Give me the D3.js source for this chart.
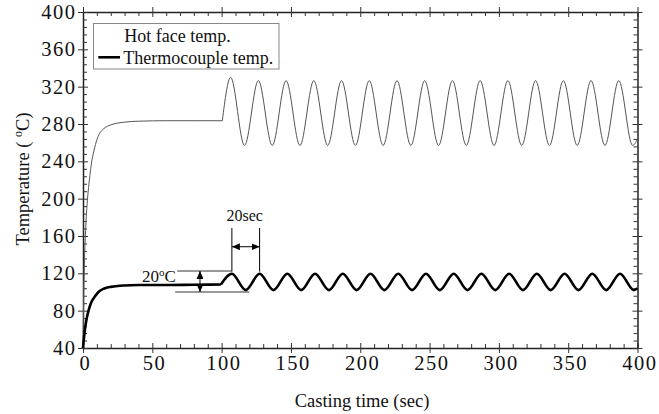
<!DOCTYPE html>
<html>
<head>
<meta charset="utf-8">
<script src="https://cdn.jsdelivr.net/npm/d3@7"></script>
<style>
  html, body { margin: 0; padding: 0; background: #fff; }
  svg { display: block; }
  text { font-family: "Liberation Serif", "Times New Roman", serif; fill: #111; }
</style>
</head>
<body>
<svg id="chart" width="659" height="414"></svg>
<script>
// Hot face temperature: start-up rise and plateau (sec, °C)
const hotRiseTime = [0, 0.5, 1, 2, 3, 4, 5, 6, 8, 10, 12, 15, 20, 25, 30, 40, 60, 80, 100.5];
const hotRiseTemp = [40, 95, 130, 170, 195, 212, 225, 237, 252, 263, 270, 275, 279, 281, 282, 283, 283.5, 283.5, 283.5];
// Hot face temperature once mould oscillation starts: turning points
const hotCycleTime = [100.5, 106.5, 116.5, 126.5, 136.5, 146.5, 156.5, 166.5, 176.5, 186.5, 196.5, 206.5, 216.5, 226.5, 236.5,
  246.5, 256.5, 266.5, 276.5, 286.5, 296.5, 306.5, 316.5, 326.5, 336.5, 346.5, 356.5, 366.5, 376.5, 386.5, 396.5, 400];
const hotCycleTemp = [283.5, 330, 257, 326.5, 257, 326.5, 257, 326.5, 257, 326.5, 257, 326.5, 257, 326.5, 257,
  326.5, 257, 326.5, 257, 326.5, 257, 326.5, 257, 326.5, 257, 326.5, 257, 326.5, 257, 326.5, 257, 264];

// Thermocouple temperature: start-up rise and plateau
const tcRiseTime = [0, 1, 2, 3, 4, 5, 6, 8, 10, 12, 15, 20, 25, 30, 40, 60, 80, 99.5];
const tcRiseTemp = [40, 55, 66, 74, 80, 85, 89, 94, 98, 101, 103.5, 105.5, 106.5, 107, 107.5, 107.5, 107.8, 108];
// Thermocouple temperature during oscillation: turning points
const tcCycleTime = [99.5, 107.4, 117.4, 127.4, 137.4, 147.4, 157.4, 167.4, 177.4, 187.4, 197.4, 207.4, 217.4, 227.4, 237.4,
  247.4, 257.4, 267.4, 277.4, 287.4, 297.4, 307.4, 317.4, 327.4, 337.4, 347.4, 357.4, 367.4, 377.4, 387.4, 397.4, 400];
const tcCycleTemp = [108, 119.5, 102, 119.5, 102, 119.5, 102, 119.5, 102, 119.5, 102, 119.5, 102, 119.5, 102,
  119.5, 102, 119.5, 102, 119.5, 102, 119.5, 102, 119.5, 102, 119.5, 102, 119.5, 102, 119.5, 102, 104];

// Axis ticks
const xTicks = [0, 50, 100, 150, 200, 250, 300, 350, 400];
const yTicks = [40, 80, 120, 160, 200, 240, 280, 320, 360, 400];
const xMinorStep = 10;
const yMinorStep = 8;

// Annotation values
const periodMarks = [107.4, 127.4];        // two successive thermocouple peaks (sec)
const periodLabel = "20sec";
const rangeTop = 122.5, rangeBottom = 100;  // thermocouple swing (°C)
const rangeLabel = "20";

const svg = d3.select("#chart");
const x = d3.scaleLinear().domain([0, 400]).range([83, 637.5]);
const y = d3.scaleLinear().domain([40, 400]).range([348, 12]);

const xMinor = d3.range(0, 400 + 1e-9, xMinorStep).filter(v => !xTicks.includes(v));
const yMinor = d3.range(40, 400 + 1e-9, yMinorStep).filter(v => !yTicks.includes(v));

const tickFont = "20.5px";
const tickSpacing = 1.5;

// Frame axes: major ticks cross the frame, minor ticks point inward
function frameSide(axisFn, scale, translate, labelled) {
  const horiz = axisFn === d3.axisBottom || axisFn === d3.axisTop;
  const majors = horiz ? xTicks : yTicks;
  const minors = horiz ? xMinor : yMinor;
  const g = svg.append("g").attr("transform", translate);
  g.append("g").call(axisFn(scale).tickValues(majors)
      .tickSize(5).tickSizeOuter(0).tickPadding(horiz ? 2 : 2)
      .tickFormat(labelled ? d3.format("d") : ""));
  const inn = g.append("g").call(axisFn(scale).tickValues(majors)
      .tickSize(-5).tickSizeOuter(0).tickFormat(""));
  const mn = g.append("g").call(axisFn(scale).tickValues(minors)
      .tickSize(-4).tickSizeOuter(0).tickFormat(""));
  inn.select(".domain").remove();
  mn.select(".domain").remove();
  g.selectAll("g").attr("font-family", null).attr("font-size", null);
  g.selectAll(".domain").attr("stroke", "#222").attr("stroke-width", 1.5);
  g.selectAll(".tick line").attr("stroke", "#333").attr("stroke-width", 1);
  g.selectAll(".tick text")
    .style("font-family", '"Liberation Serif", "Times New Roman", serif')
    .style("font-size", tickFont)
    .style("letter-spacing", tickSpacing + "px")
    .attr("fill", "#111");
  if (horiz) g.selectAll(".tick text").attr("dx", 1 + tickSpacing / 2);
  else g.selectAll(".tick text").attr("dx", tickSpacing - 1);
  return g;
}
frameSide(d3.axisBottom, x, `translate(0,${y(40)})`, true);
frameSide(d3.axisTop, x, `translate(0,${y(400)})`, false);
frameSide(d3.axisLeft, y, `translate(${x(0)},0)`, true);
frameSide(d3.axisRight, y, `translate(${x(400)},0)`, false);

// Curves
const line = d3.line().x(d => x(d[0])).y(d => y(d[1])).curve(d3.curveMonotoneX);
const zip = (a, b) => a.map((v, i) => [v, b[i]]);

const hotStyle = p => p.attr("fill", "none").attr("stroke", "#555").attr("stroke-width", 1);
const tcStyle = p => p.attr("fill", "none").attr("stroke", "#000").attr("stroke-width", 2.6).attr("stroke-linejoin", "round");

svg.append("path").datum(zip(hotRiseTime, hotRiseTemp)).attr("d", line).call(hotStyle);
svg.append("path").datum(zip(hotCycleTime, hotCycleTemp)).attr("d", line).call(hotStyle);
svg.append("path").datum(zip(tcRiseTime, tcRiseTemp)).attr("d", line).call(tcStyle);
svg.append("path").datum(zip(tcCycleTime, tcCycleTemp)).attr("d", line).call(tcStyle);

// Arrowhead marker
svg.append("defs").append("marker")
  .attr("id", "head").attr("markerUnits", "userSpaceOnUse")
  .attr("viewBox", "0 0 8 7").attr("markerWidth", 8).attr("markerHeight", 7)
  .attr("refX", 8).attr("refY", 3.5).attr("orient", "auto-start-reverse")
  .append("path").attr("d", "M0,0 L8,3.5 L0,7 Z").attr("fill", "#000");

const ann = svg.append("g").attr("stroke", "#000").attr("stroke-width", 1);
// period markers
periodMarks.forEach(t => {
  ann.append("line").attr("x1", x(t)).attr("x2", x(t)).attr("y1", y(168.5)).attr("y2", y(121.8));
});
ann.append("line")
  .attr("x1", x(periodMarks[0])).attr("x2", x(periodMarks[1]))
  .attr("y1", y(148.5)).attr("y2", y(148.5))
  .attr("marker-start", "url(#head)").attr("marker-end", "url(#head)");
svg.append("text")
  .attr("x", (x(periodMarks[0]) + x(periodMarks[1])) / 2 - 1).attr("y", y(176))
  .attr("text-anchor", "middle").style("font-size", "16px").text(periodLabel);

// swing markers
ann.append("line").attr("x1", x(68)).attr("x2", x(107.4)).attr("y1", y(rangeTop)).attr("y2", y(rangeTop))
  .attr("stroke", "#333");
ann.append("line").attr("x1", x(66.5)).attr("x2", x(120)).attr("y1", y(rangeBottom)).attr("y2", y(rangeBottom))
  .attr("stroke", "#333");
ann.append("line").attr("x1", x(84.4)).attr("x2", x(84.4))
  .attr("y1", y(rangeTop)).attr("y2", y(rangeBottom))
  .attr("marker-start", "url(#head)").attr("marker-end", "url(#head)");
const rl = svg.append("text").attr("x", x(67)).attr("y", y(110.5))
  .attr("text-anchor", "end").style("font-size", "17px");
rl.append("tspan").text(rangeLabel);
rl.append("tspan").attr("dy", -6).style("font-size", "11px").text("o");
rl.append("tspan").attr("dy", 6).text("C");

// Legend
const lg = svg.append("g");
lg.append("rect").attr("x", 93.5).attr("y", 23.5).attr("width", 185.5).attr("height", 45.5)
  .attr("fill", "#fff").attr("stroke", "#888").attr("stroke-width", 1);
lg.append("text").attr("x", 124.3).attr("y", 41.7).style("font-size", "18px").text("Hot face temp.");
lg.append("line").attr("x1", 98.3).attr("x2", 120).attr("y1", 57.3).attr("y2", 57.3)
  .attr("stroke", "#000").attr("stroke-width", 2.6);
lg.append("text").attr("x", 123.3).attr("y", 64.3).style("font-size", "18px").text("Thermocouple temp.");

// Axis titles
svg.append("text").attr("x", 362).attr("y", 407).attr("text-anchor", "middle")
  .style("font-size", "18.5px").text("Casting time (sec)");
const yt = svg.append("text").attr("transform", "translate(28.5,179) rotate(-90)")
  .attr("text-anchor", "middle").style("font-size", "18.5px");
yt.append("tspan").text("Temperature ( ");
yt.append("tspan").attr("dy", -7).style("font-size", "12px").text("o");
yt.append("tspan").attr("dy", 7).text("C)");
</script>
</body>
</html>
